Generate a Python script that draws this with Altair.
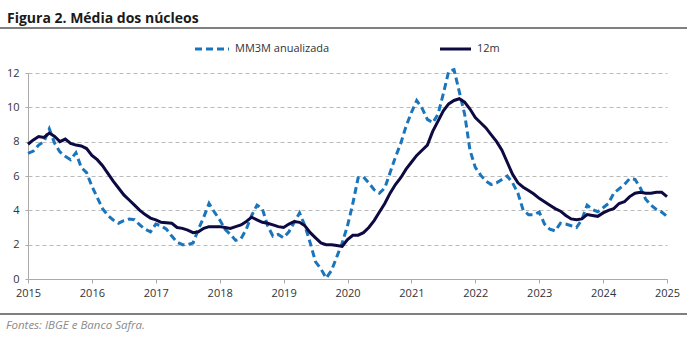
import altair as alt
import pandas as pd

title_text = "Figura 2. Média dos núcleos"
source_text = "Fontes: IBGE e Banco Safra."
series_names = ["MM3M anualizada", "12m"]
year_ticks = list(range(2015, 2026))
y_ticks = [0, 2, 4, 6, 8, 10, 12]

# monthly values, Jan 2015 .. Jan 2025
mm3m = [
    7.32, 7.45, 7.8, 8.0, 8.75, 7.9, 7.4, 7.15, 6.95, 7.35, 6.5, 6.2,      # 2015
    5.4, 4.75, 4.1, 3.7, 3.44, 3.25, 3.4, 3.5, 3.45, 3.15, 2.9, 2.75,     # 2016
    3.2, 3.1, 2.9, 2.5, 2.15, 2.0, 2.0, 2.1, 2.9, 3.6, 4.4, 3.9,          # 2017
    3.45, 2.9, 2.6, 2.25, 2.35, 2.9, 3.7, 4.3, 4.1, 3.1, 2.5, 2.6,        # 2018
    2.4, 2.75, 3.3, 3.85, 3.1, 2.1, 1.0, 0.6, 0.05, 0.5, 1.3, 2.1,        # 2019
    3.1, 4.4, 5.9, 5.95, 5.6, 5.2, 5.0, 5.3, 6.2, 7.1, 7.9, 8.9,          # 2020
    9.7, 10.4, 9.95, 9.3, 9.1, 9.6, 10.8, 12.1, 12.2, 10.9, 9.6, 7.5,     # 2021
    6.5, 6.05, 5.7, 5.5, 5.6, 5.8, 6.0, 5.6, 5.0, 4.0, 3.75, 3.75,        # 2022
    3.9, 3.2, 2.9, 2.8, 3.25, 3.2, 3.1, 3.0, 3.45, 4.3, 4.05, 3.92,       # 2023
    4.15, 4.4, 5.0, 5.25, 5.5, 5.85, 5.8, 5.3, 4.65, 4.3, 4.05, 3.9,      # 2024
    3.65,                                                                 # 2025
]
m12 = [
    7.85, 8.1, 8.3, 8.25, 8.5, 8.3, 8.0, 8.15, 7.9, 7.8, 7.75, 7.6,       # 2015
    7.2, 6.95, 6.6, 6.15, 5.7, 5.3, 4.9, 4.6, 4.3, 4.0, 3.75, 3.55,       # 2016
    3.45, 3.3, 3.28, 3.25, 3.0, 2.95, 2.85, 2.7, 2.75, 2.95, 3.05, 3.05,  # 2017
    3.05, 3.0, 2.95, 3.05, 3.15, 3.35, 3.6, 3.45, 3.3, 3.25, 3.15, 3.05,  # 2018
    3.0, 3.2, 3.35, 3.3, 3.1, 2.7, 2.4, 2.1, 2.0, 2.0, 1.95, 1.9,         # 2019
    2.3, 2.55, 2.55, 2.7, 3.0, 3.4, 3.9, 4.4, 5.0, 5.5, 5.9, 6.4,         # 2020
    6.8, 7.2, 7.5, 7.8, 8.6, 9.2, 9.8, 10.2, 10.4, 10.5, 10.3, 9.9,       # 2021
    9.4, 9.1, 8.8, 8.4, 8.0, 7.5, 6.8, 6.1, 5.6, 5.35, 5.15, 4.95,        # 2022
    4.7, 4.5, 4.3, 4.1, 3.95, 3.7, 3.5, 3.45, 3.5, 3.75, 3.7, 3.65,       # 2023
    3.85, 4.0, 4.1, 4.4, 4.5, 4.8, 5.0, 5.05, 5.0, 5.0, 5.05, 5.05,       # 2024
    4.8,                                                                  # 2025
]

n = len(mm3m)
t = [2015 + i / 12 for i in range(n)]
df = pd.DataFrame({
    "t": t * 2,
    "v": mm3m + m12,
    "s": [series_names[0]] * n + [series_names[1]] * n,
})

FONT = "Open Sans"
BLUE = "#1b75bb"
NAVY = "#0c0a40"

base = alt.Chart(df)
x_enc = alt.X("t:Q", scale=alt.Scale(domain=[2015, 2025], nice=False, zero=False),
              axis=alt.Axis(values=year_ticks, format="d", title=None, grid=False,
                            domainColor="#aaaaaa", tickColor="#aaaaaa", tickSize=4,
                            labelFont=FONT, labelFontSize=11, labelColor="#333333",
                            labelPadding=4, labelFlush=False, labelOverlap=False))
y_enc = alt.Y("v:Q", scale=alt.Scale(domain=[0, 12], nice=False),
              axis=alt.Axis(values=y_ticks, title=None, grid=True, gridColor="#bbbbbb",
                            gridDash=[4, 3], domainColor="#aaaaaa", tickColor="#aaaaaa",
                            tickSize=3, labelFont=FONT, labelFontSize=11,
                            labelColor="#333333", labelPadding=6,
                            labelFlush=False, labelOverlap=False))

dashed = base.transform_filter(alt.datum.s == series_names[0]).mark_line(
    color=BLUE, strokeWidth=3, strokeDash=[7, 4]).encode(x=x_enc, y=y_enc)
solid = base.transform_filter(alt.datum.s == series_names[1]).mark_line(
    color=NAVY, strokeWidth=3).encode(x=x_enc, y=y_enc)

one = pd.DataFrame({"a": [0]})
title = alt.Chart(one).mark_text(align="left", baseline="alphabetic", font=FONT,
                                 fontSize=14, fontWeight="bold", color="#1a1a1a").encode(
    x=alt.value(-21), y=alt.value(-50), text=alt.value(title_text))
top_rule = alt.Chart(one).mark_rule(color="#000000", strokeWidth=1).encode(
    x=alt.value(-28), x2=alt.value(659), y=alt.value(-45))
bot_rule = alt.Chart(one).mark_rule(color="#000000", strokeWidth=1).encode(
    x=alt.value(-28), x2=alt.value(659), y=alt.value(241))
source = alt.Chart(one).mark_text(align="left", baseline="alphabetic", font=FONT,
                                  fontSize=11.5, fontStyle="italic", color="#8a8a8a").encode(
    x=alt.value(-22), y=alt.value(256), text=alt.value(source_text))

leg1_line = alt.Chart(one).mark_rule(color=BLUE, strokeWidth=3, strokeDash=[7, 4]).encode(
    x=alt.value(167), x2=alt.value(201), y=alt.value(-24))
leg1_text = alt.Chart(one).mark_text(align="left", baseline="middle", font=FONT,
                                     fontSize=11, color="#333333").encode(
    x=alt.value(207), y=alt.value(-24), text=alt.value(series_names[0]))
leg2_line = alt.Chart(one).mark_rule(color=NAVY, strokeWidth=3).encode(
    x=alt.value(412), x2=alt.value(443), y=alt.value(-24))
leg2_text = alt.Chart(one).mark_text(align="left", baseline="middle", font=FONT,
                                     fontSize=11, color="#333333").encode(
    x=alt.value(449), y=alt.value(-24), text=alt.value(series_names[1]))

chart = alt.layer(
    dashed, solid, title, top_rule, bot_rule, source,
    leg1_line, leg1_text, leg2_line, leg2_text,
).properties(
    width=639, height=206,
    autosize=alt.AutoSizeParams(type="none"),
    padding={"left": 28, "top": 73, "right": 20, "bottom": 74},
    background="white",
).configure_view(stroke=None)

chart.save("out.html", embed_options={"renderer": "svg", "actions": False})
